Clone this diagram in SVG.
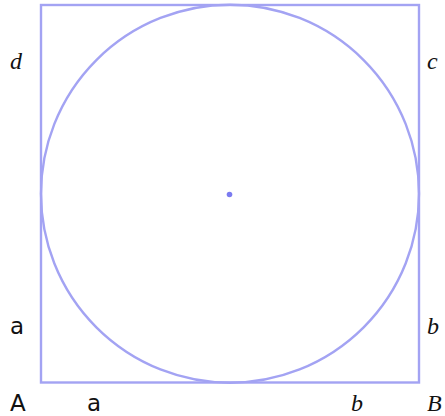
<svg xmlns="http://www.w3.org/2000/svg" width="445" height="416" viewBox="0 0 445 416">
<style>
.shape{fill:none;stroke:#a3a3f3;stroke-width:2.4}
.sans{font-family:"DejaVu Sans","Liberation Sans",sans-serif;font-size:23px;fill:#111}
.ital{font-family:"Liberation Serif",serif;font-style:italic;font-size:24px;fill:#111}
</style>
<rect width="445" height="416" fill="#fff"/>
<g id="square"><rect class="shape" x="41" y="5" width="378" height="377.5"/></g>
<g id="circle"><circle class="shape" cx="230" cy="193.7" r="189"/></g>
<g id="center"><circle cx="229.5" cy="194.5" r="2.8" fill="#7b7bf0"/></g>
<g id="labels">
<text class="ital" x="10" y="69">d</text>
<text class="ital" x="427" y="69">c</text>
<text class="sans" x="10" y="334">a</text>
<text class="ital" x="427" y="334">b</text>
<text class="sans" x="10" y="411">A</text>
<text class="sans" x="87" y="411">a</text>
<text class="ital" x="351" y="411">b</text>
<text class="ital" x="427" y="411">B</text>
</g>
</svg>
